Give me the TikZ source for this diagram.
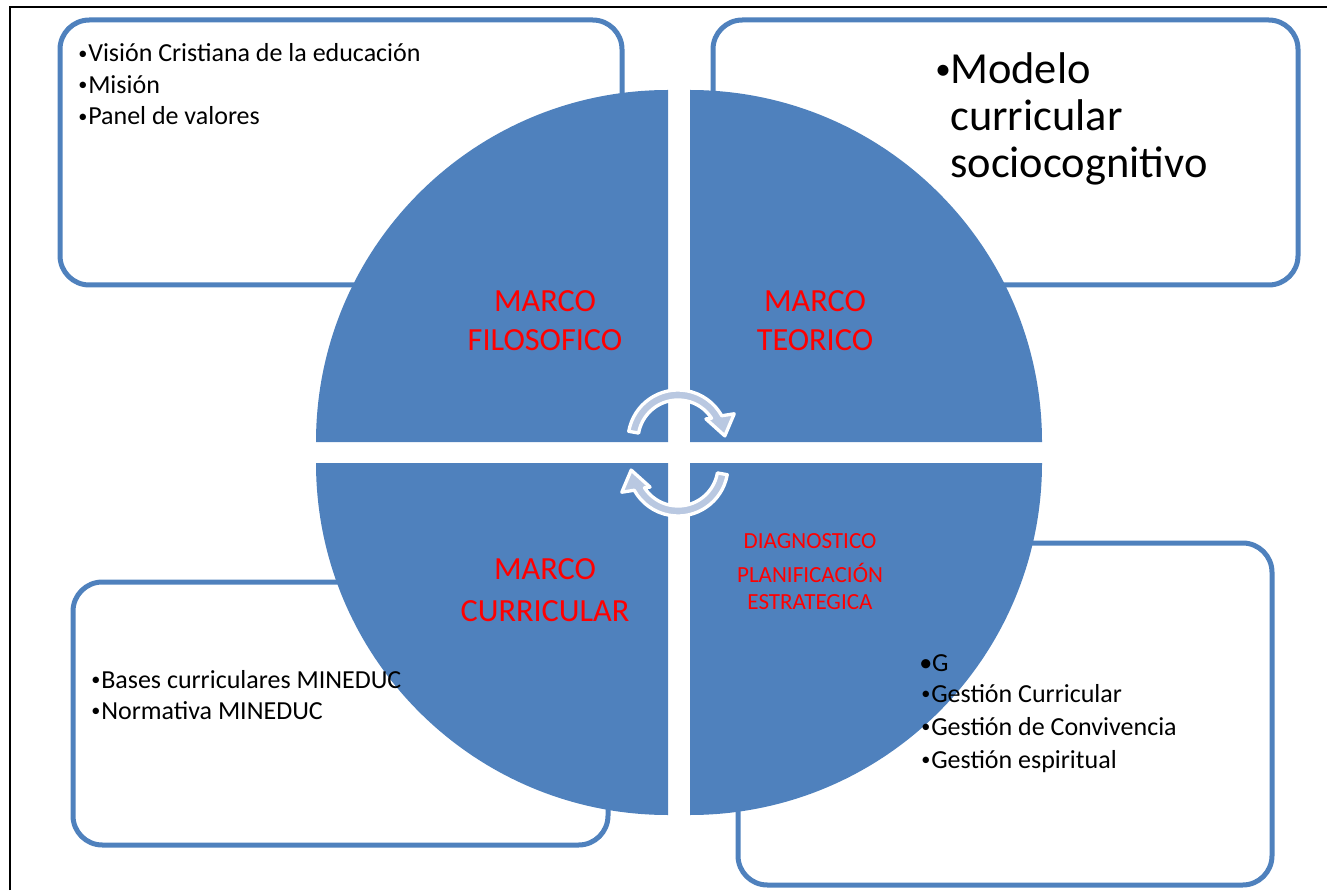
\documentclass[tikz,border=0pt]{standalone}
\usepackage{fontspec}
\usepackage{graphicx}
\setmainfont{Carlito}
\usetikzlibrary{positioning}
\definecolor{accentblue}{HTML}{4F81BD}
\definecolor{arrowblue}{HTML}{B9C8E1}
\definecolor{labelred}{HTML}{FF0000}
\newcommand{\bul}[1][7.5pt]{\makebox[#1][l]{\raisebox{0.1em}{\scalebox{0.7}{•}}}}
\tikzset{
  framebox/.style={draw=accentblue, line width=3.75pt, rounded corners=22pt},
  quadrant/.style={fill=accentblue},
  cyclearrow/.style={fill=arrowblue, draw=white, line width=2.5pt, line join=round},
  item/.style={anchor=base west, inner sep=0pt, font=\fontsize{19.5}{23}\selectfont},
  bigitem/.style={anchor=base west, inner sep=0pt, font=\fontsize{33.3}{40}\selectfont},
  marco/.style={anchor=base, inner sep=0pt, text=labelred, font=\fontsize{24.2}{29}\selectfont},
  plan/.style={anchor=base, inner sep=0pt, text=labelred, font=\fontsize{17.3}{21}\selectfont}
}
\begin{document}
\begin{tikzpicture}[x=0.75pt, y=0.75pt]
  \useasboundingbox (0,0) rectangle (1327,890);
  % outer frame
  \draw[line width=1.2pt] (10,0) -- (10,883) -- (1327,883);

  % text boxes behind the circle
  \draw[framebox] (60,605) rectangle (622,870);
  \draw[framebox] (713,605) rectangle (1298,870);
  \draw[framebox] (73,45) rectangle (608,308);
  \draw[framebox] (738,5) rectangle (1272,347);

  % the four quadrants
  \foreach \cx/\cy/\a in {668/448/90, 690/448/0, 668/427/180, 690/427/270}
    \fill[quadrant] (\cx,\cy) -- ++(\a:352) arc[start angle=\a, end angle=\a+90, radius=352] -- cycle;

  % cycle arrows in the middle
  \foreach \rot in {0,180}
    \filldraw[cyclearrow, shift={(678,437)}, rotate=\rot, shift={(0,13)}]
      (170:50) arc[start angle=170, end angle=29, radius=50] -- (25:62) -- (5:47)
      -- (37:35) -- (33:40) arc[start angle=33, end angle=170, radius=40] -- cycle;

  % quadrant labels
  \node[marco] (filA) at (545,578) {MARCO};
  \node[marco] (filB) at (545,539) {FILOSOFICO};
  \node[marco] (teoA) at (815,578) {MARCO};
  \node[marco] (teoB) at (815,539) {TEORICO};
  \node[marco] (curA) at (545,311) {MARCO};
  \node[marco] (curB) at (545,269) {CURRICULAR};
  \node[plan] (diag) at (810,342) {DIAGNOSTICO};
  \node[plan] (planA) at (810,308) {PLANIFICACIÓN};
  \node[plan] (planB) at (810,281) {ESTRATEGICA};

  % box contents
  \node[item] (vis) at (78,828) {\bul Visión Cristiana de la educación};
  \node[item] (mis) at (78,796.5) {\bul Misión};
  \node[item] (pan) at (78,765) {\bul Panel de valores};

  \node[bigitem] (mod) at (935,806) {\bul[11.25pt]Modelo};
  \node[bigitem] (cur) at (950,759) {curricular};
  \node[bigitem] (soc) at (950,712) {sociocognitivo};

  \node[item] (bas) at (91,202) {\bul Bases curriculares MINEDUC};
  \node[item] (nor) at (91,171) {\bul Normativa MINEDUC};

  \node[item] (ges) at (919,219) {•G};
  \node[item] (gcu) at (921,188) {\bul Gestión Curricular};
  \node[item] (gco) at (921,155) {\bul Gestión de Convivencia};
  \node[item] (ges2) at (921,122) {\bul Gestión espiritual};
\end{tikzpicture}
\end{document}
